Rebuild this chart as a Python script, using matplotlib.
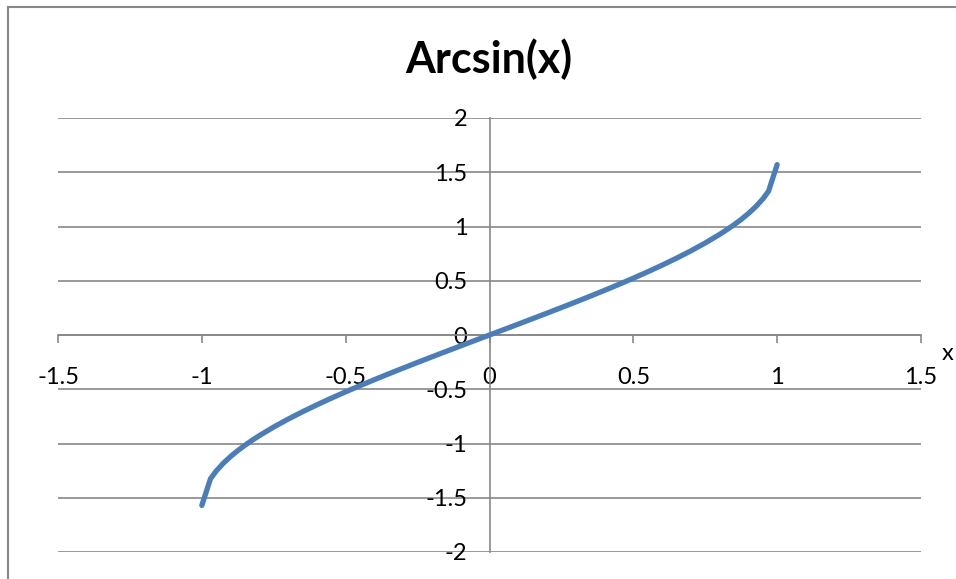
import matplotlib.pyplot as plt
from matplotlib.lines import Line2D

# data (points of arcsin(x))
xs = [-1.0, -0.97, -0.95, -0.925, -0.9, -0.875, -0.85, -0.825, -0.8, -0.75,
      -0.7, -0.65, -0.6, -0.55, -0.5, -0.45, -0.4, -0.35, -0.3, -0.25, -0.2,
      -0.15, -0.1, -0.05, 0.0,
      0.05, 0.1, 0.15, 0.2, 0.25, 0.3, 0.35, 0.4, 0.45, 0.5, 0.55, 0.6,
      0.65, 0.7, 0.75, 0.8, 0.825, 0.85, 0.875, 0.9, 0.925, 0.95, 0.97, 1.0]
ys = [-1.5708, -1.3252, -1.2532, -1.1810, -1.1198, -1.0654, -1.0160, -0.9702,
      -0.9273, -0.8481, -0.7754, -0.7076, -0.6435, -0.5824, -0.5236, -0.4668,
      -0.4115, -0.3576, -0.3047, -0.2527, -0.2014, -0.1506, -0.1002, -0.0500,
      0.0,
      0.0500, 0.1002, 0.1506, 0.2014, 0.2527, 0.3047, 0.3576, 0.4115, 0.4668,
      0.5236, 0.5824, 0.6435, 0.7076, 0.7754, 0.8481, 0.9273, 0.9702, 1.0160,
      1.0654, 1.1198, 1.1810, 1.2532, 1.3252, 1.5708]
x_ticks = [-1.5, -1, -0.5, 0, 0.5, 1, 1.5]
x_labels = ['-1.5', '-1', '-0.5', '0', '0.5', '1', '1.5']
y_ticks = [-2, -1.5, -1, -0.5, 0, 0.5, 1, 1.5, 2]
y_labels = ['-2', '-1.5', '-1', '-0.5', '0', '0.5', '1', '1.5', '2']

plt.rcParams['font.family'] = ['Lato', 'DejaVu Sans']
grey = '#878787'

W, H = 956, 579
fig = plt.figure(figsize=(W / 100, H / 100), dpi=100)
ax = fig.add_axes([58 / W, (H - 552) / H, (921 - 58) / W, (552 - 118) / H])

ax.plot(xs, ys, color='#4A7EBB', lw=3.8, solid_capstyle='round',
        solid_joinstyle='round', zorder=3)

ax.set_xlim(-1.5, 1.5)
ax.set_ylim(-2, 2)
ax.set_xticks(x_ticks)
ax.set_xticklabels(x_labels)
ax.set_yticks(y_ticks)
ax.set_yticklabels(y_labels)

for s in ['top', 'right']:
    ax.spines[s].set_visible(False)
ax.spines['left'].set_position(('data', 0))
ax.spines['bottom'].set_position(('data', 0))
for s in ['left', 'bottom']:
    ax.spines[s].set_color(grey)
    ax.spines[s].set_linewidth(1.2)

ax.yaxis.grid(True, color=grey, lw=1.2)
ax.set_axisbelow(True)
ax.tick_params(axis='x', direction='out', length=6, width=1.2, color=grey,
               labelsize=17, pad=17)
ax.tick_params(axis='y', length=0, labelsize=17, pad=16)

# title and axis name
fig.text(489 / W, 1 - 59 / H, 'Arcsin(x)', ha='center', va='center',
         fontsize=31, fontweight='bold')
fig.text(948 / W, 1 - 354 / H, 'x', ha='center', va='center', fontsize=17)

# chart frame
fig.add_artist(Line2D([7.5 / W, 7.5 / W], [0, 1 - 6.5 / H], color=grey, lw=1.5,
                      transform=fig.transFigure))
fig.add_artist(Line2D([7.5 / W, 1], [1 - 6.5 / H, 1 - 6.5 / H], color=grey, lw=1.5,
                      transform=fig.transFigure))

fig.savefig('out.png', dpi=100)
